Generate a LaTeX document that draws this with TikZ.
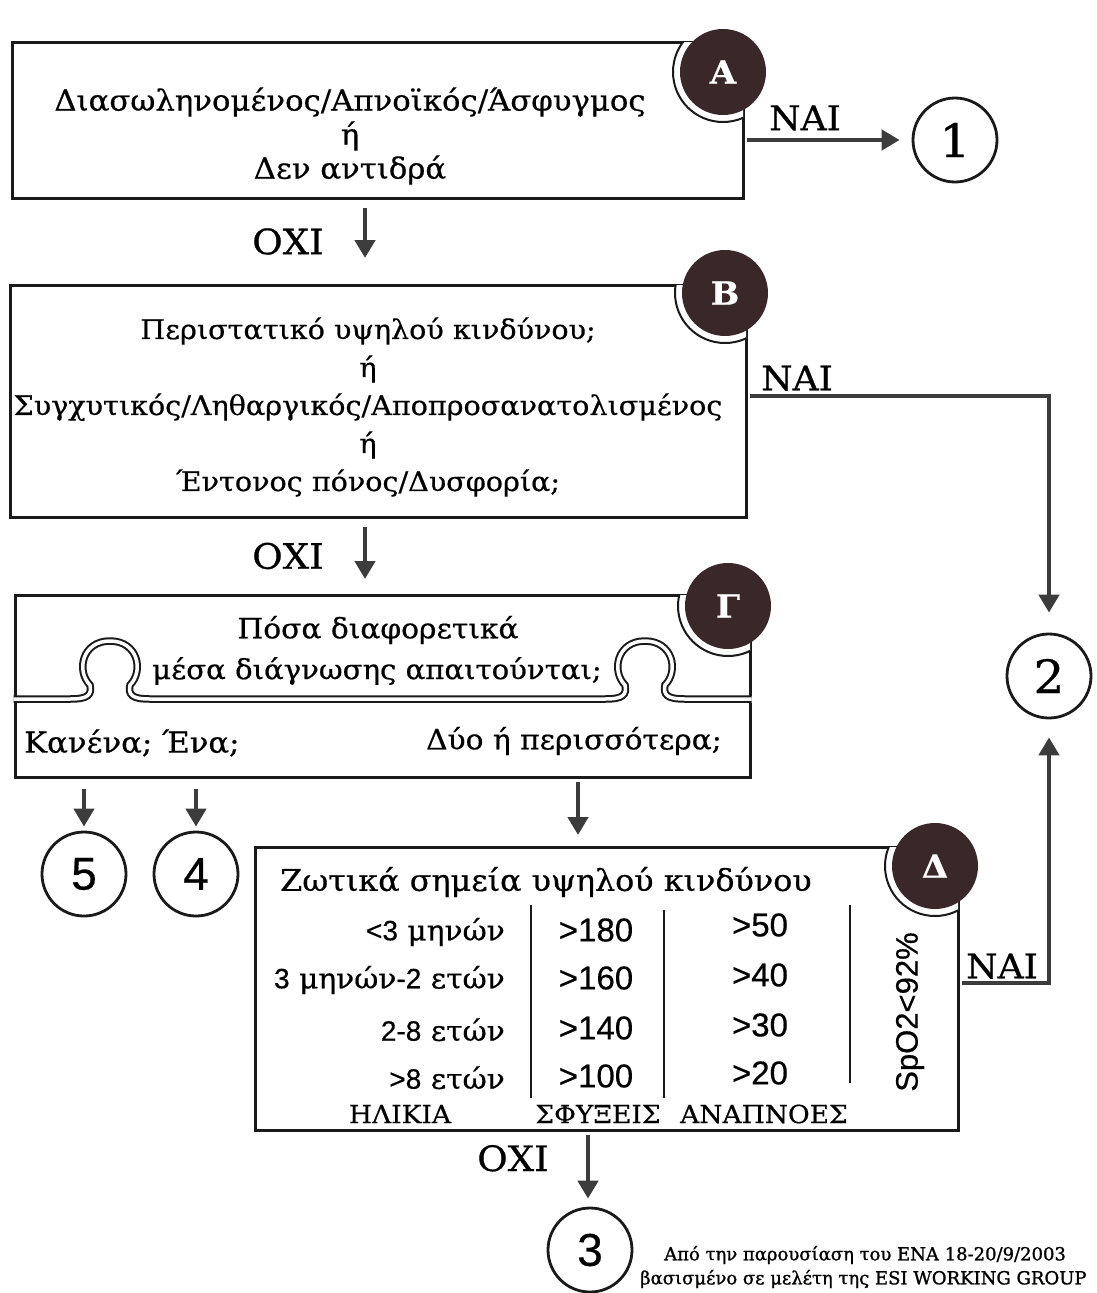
\documentclass[tikz,border=0pt]{standalone}
\usepackage{fontspec}
\setmainfont{DejaVu Serif}[FakeStretch=1.06,FakeBold=0.6]
\newfontfamily\sansf{Liberation Sans}[FakeBold=0.5]
\newfontfamily\footf{DejaVu Serif}[FakeBold=1.2]
\usetikzlibrary{arrows.meta}
\definecolor{ink}{HTML}{1A1A1A}
\definecolor{arrowgray}{HTML}{3C3C3C}
\definecolor{badge}{HTML}{3A2828}
\newcommand\mybadge[5]{%
  \begin{scope}
    \clip (#4) rectangle (#5);
    \draw[ink,line width=2pt,fill=white] (#2) circle (50pt);
  \end{scope}
  \node[badgec] (#1) at (#2) {#3};}
\begin{document}
\begin{tikzpicture}[x=1pt,y=-1pt,
  boxl/.style={draw=ink,line width=3pt},
  area/.style={inner sep=0pt,outer sep=0pt},
  txt/.style={font=\fontsize{28}{38}\selectfont,inner sep=0pt,align=center},
  badgec/.style={circle,fill=badge,minimum size=86pt,inner sep=0pt,text=white,font=\fontsize{32}{32}\selectfont\bfseries},
  numc/.style={circle,draw=ink,line width=2.8pt,minimum size=84pt,inner sep=0pt,font=\sansf\fontsize{46}{46}\selectfont},
  arr/.style={draw=arrowgray,line width=4.5pt,-{Triangle[length=18pt,width=20pt]}},
  lbl/.style={font=\fontsize{34}{34}\selectfont,inner sep=1pt},
  oxi/.style={font=\fontsize{35}{35}\selectfont,inner sep=1pt},
  cell/.style={font=\fontsize{28}{28}\selectfont,inner sep=0pt},
  num/.style={font=\sansf\fontsize{33}{33}\selectfont,inner sep=0pt},
  head/.style={font=\fontsize{25}{25}\selectfont,inner sep=0pt},
  bar/.style={draw=ink,line width=2.8pt}
]
\useasboundingbox[fill=white] (0,0) rectangle (1096,1293);

% ---------- Box A ----------
\node[area,boxl,anchor=north west,minimum width=731pt,minimum height=156pt] (boxA) at (12,42) {};
\mybadge{bA}{723,72}{Α}{12,42}{743,198}
\node[txt,font=\fontsize{29}{38}\selectfont] (tA) at (350,136) {Διασωληνομένος/Απνοϊκός/Άσφυγμος\\[-4pt]ή\\[-4pt]Δεν αντιδρά};
\node[numc,font=\fontsize{46}{46}\selectfont] (c1) at (955,140) {1};
\draw[arr,shorten >=12pt] ([xshift=4pt]boxA.east |- c1) -- (c1);
\node[lbl] (nA) at (805,118) {ΝΑΙ};

% ---------- Box B ----------
\node[area,boxl,anchor=north west,minimum width=736pt,minimum height=232pt] (boxB) at (10,285) {};
\mybadge{bB}{725,293}{Β}{10,285}{746,517}
\node[txt,font=\fontsize{27}{38}\selectfont] (tB) at (368,407) {Περιστατικό υψηλού κινδύνου;\\ή\\Συγχυτικός/Ληθαργικός/Αποπροσανατολισμένος\\ή\\Έντονος πόνος/Δυσφορία;};
\draw[arr,shorten <=10pt,shorten >=27pt] (boxA.south -| 365,0) -- node[oxi,left=38pt] (oA) {ΟΧΙ} (boxB.north -| 365,0);

% ---------- circle 2 and NAI from B ----------
\node[numc,font=\fontsize{46}{46}\selectfont] (c2) at (1049,676) {2};
\coordinate (turnB) at (1049,396);
\draw[arr,shorten >=20pt] ([xshift=4pt]boxB.east |- turnB) -- (turnB) -- (c2.north);
\node[lbl,anchor=south] (nB) at (797,392) {ΝΑΙ};

% ---------- Box Gamma ----------
\node[area,anchor=north west,minimum width=735pt,minimum height=102pt] (boxG1) at (15,595) {};
\node[area,anchor=north west,minimum width=735pt,minimum height=74pt] (boxG2) at (15,703) {};
\draw[boxl] (15,695.5) -- (15,595) -- (750,595) -- (750,695.5);
\draw[boxl] (15,702.5) -- (15,777) -- (750,777) -- (750,702.5);
\draw[draw=ink,line width=2pt,double=white,double distance=3.5pt]
  (13.5,699) -- (70,699) .. controls (88,699) and (92,695) .. (90,685)
  .. controls (76,671) and (82,641) .. (110,641)
  .. controls (138,641) and (144,671) .. (130,685)
  .. controls (128,695) and (132,699) .. (150,699)
  -- (605,699) .. controls (623,699) and (627,695) .. (625,685)
  .. controls (611,671) and (617,641) .. (645,641)
  .. controls (673,641) and (679,671) .. (665,685)
  .. controls (663,695) and (667,699) .. (685,699)
  -- (751.5,699);
\mybadge{bG}{728,606}{Γ}{15,595}{750,696}
\node[txt] (tG1) at (378,630) {Πόσα διαφορετικά};
\node[txt,font=\fontsize{27.5}{30}\selectfont] (tG2) at (377,671) {μέσα διάγνωσης απαιτούνται;};
\node[txt,font=\fontsize{29}{30}\selectfont,anchor=west] (tG3) at (24,743) {Κανένα; Ένα;};
\node[txt,anchor=east] (tG4) at (722,741) {Δύο ή περισσότερα;};
\draw[arr,shorten <=10pt,shorten >=16pt] (boxB.south -| 365,0) -- node[oxi,left=38pt] (oB) {ΟΧΙ} (boxG1.north -| 365,0);

% ---------- circles 5, 4 ----------
\node[numc] (c5) at (84,874) {5};
\node[numc] (c4) at (196,874) {4};
\draw[arr,shorten <=12pt,shorten >=4pt] (boxG2.south -| c5) -- (c5);
\draw[arr,shorten <=12pt,shorten >=4pt] (boxG2.south -| c4) -- (c4);

% ---------- Box Delta ----------
\node[area,boxl,anchor=north west,minimum width=703pt,minimum height=283pt] (boxD) at (255,847) {};
\mybadge{bD}{935,866}{Δ}{255,847}{958,1130}
\draw[arr,shorten <=5pt,shorten >=12pt] (boxG2.south -| 578,0) -- (boxD.north -| 578,0);
\node[cell,font=\fontsize{30}{30}\selectfont] (title) at (546,882) {Ζωτικά σημεία υψηλού κινδύνου};
\node[cell,anchor=east] (a1) at (505,932) {{\sansf <3} μηνών};
\node[cell,anchor=east] (a2) at (505,980) {{\sansf 3} μηνών{\sansf -2} ετών};
\node[cell,anchor=east] (a3) at (505,1030) {{\sansf 2-8} ετών};
\node[cell,anchor=east] (a4) at (505,1078) {{\sansf >8} ετών};
\node[num] (p1) at (596,930) {>180};
\node[num] (p2) at (596,978) {>160};
\node[num] (p3) at (596,1028) {>140};
\node[num] (p4) at (596,1076) {>100};
\node[num] (r1) at (760,925) {>50};
\node[num] (r2) at (760,975) {>40};
\node[num] (r3) at (760,1025) {>30};
\node[num] (r4) at (760,1073) {>20};
\node[head] (h1) at (400,1114) {ΗΛΙΚΙΑ};
\node[head] (h2) at (598,1114) {ΣΦΥΞΕΙΣ};
\node[head] (h3) at (764,1114) {ΑΝΑΠΝΟΕΣ};
\node[num,font=\sansf\fontsize{31}{31}\selectfont,rotate=90] (sp) at (910,1012) {SpO2<92\%};
\draw[bar] (531,905) -- (531,1098);
\draw[bar] (664,910) -- (664,1098);
\draw[bar] (850,905) -- (850,1083);

% ---------- NAI from Delta ----------
\coordinate (turnD) at (1049,983);
\draw[arr,shorten >=18pt] ([xshift=4pt]boxD.east |- turnD) -- (turnD) -- (c2.south);
\node[lbl,anchor=south] (nD) at (1002,980) {ΝΑΙ};

% ---------- circle 3 ----------
\node[numc] (c3) at (590,1250) {3};
\draw[arr,shorten <=5pt,shorten >=8pt] (boxD.south -| 588,0) -- node[oxi,left=36pt,yshift=10pt] (oD) {ΟΧΙ} (c3.north -| 588,0);

% ---------- footnote ----------
\node[font=\footf\fontsize{18}{24}\selectfont,anchor=west,inner sep=0pt,align=left] (foot) at (640,1267)
  {\hspace*{24pt}Από την παρουσίαση του ΕΝΑ 18-20/9/2003\\βασισμένο σε μελέτη της ESI WORKING GROUP};
\end{tikzpicture}
\end{document}
